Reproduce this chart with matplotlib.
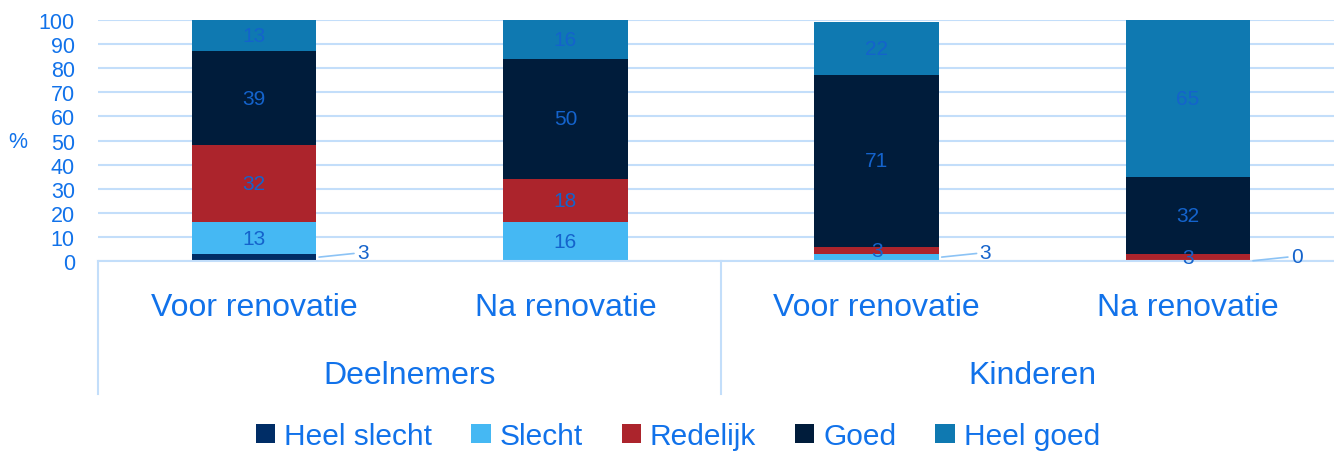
import numpy as np
import matplotlib.pyplot as plt

# data
groups = ['Deelnemers', 'Kinderen']
phases = ['Voor renovatie', 'Na renovatie', 'Voor renovatie', 'Na renovatie']
series = ['Heel slecht', 'Slecht', 'Redelijk', 'Goed', 'Heel goed']
heel_slecht = [3, 0, 0, 0]
slecht = [13, 16, 3, 0]
redelijk = [32, 18, 3, 3]
goed = [39, 50, 71, 32]
heel_goed = [13, 16, 22, 65]
values = [heel_slecht, slecht, redelijk, goed, heel_goed]
colors = ['#002D66', '#45B8F3', '#AC242C', '#001C3B', '#0F79B1']

txt = '#1172EA'
lab = '#1463CC'
grid = '#C3DEFA'
plt.rcParams['font.family'] = ['Liberation Sans', 'DejaVu Sans']

fig = plt.figure(figsize=(13.34, 4.52), dpi=100)
ax = fig.add_axes([98.4 / 1334, 1 - 262 / 452, 1245.2 / 1334, 241 / 452])

x = np.arange(len(phases))
bottom = np.zeros(len(phases))
for name, vals, c in zip(series, values, colors):
    vals = np.array(vals, dtype=float)
    ax.bar(x, vals, 0.4, bottom=bottom, color=c, label=name, zorder=2)
    for i, v in enumerate(vals):
        mid = bottom[i] + v / 2
        if name == 'Heel slecht' or (name == 'Slecht' and i == 2):
            # labels with leader line
            if v == 0 and i != 3:
                continue
            ax.annotate('%d' % v, xy=(x[i] + 0.2, bottom[i] + v / 2),
                        xytext=(x[i] + 0.33, bottom[i] + v / 2 + 2),
                        color=lab, fontsize=15, va='center', ha='left',
                        arrowprops=dict(arrowstyle='-', color='#8CC3F5', lw=1.2,
                                        shrinkA=0, shrinkB=2))
        elif v > 0:
            ax.text(x[i], mid, '%d' % v, color=lab, fontsize=15,
                    ha='center', va='center', zorder=3)
    bottom += vals

ax.set_xlim(-0.5, 3.5)
ax.set_ylim(0, 100)
ax.set_yticks(range(0, 101, 10))
ax.tick_params(axis='y', length=0, labelsize=15.5, labelcolor=txt, pad=17)
ax.set_xticks([])
for s in ax.spines.values():
    s.set_visible(False)
ax.grid(axis='y', color=grid, lw=1.5, zorder=0)
ax.set_axisbelow(True)
fig.text(18 / 1334, 1 - 143 / 452, '%', color=txt, fontsize=15.5, ha='center', va='center')

# category axis
for i, p in enumerate(phases):
    ax.text(x[i], -19, p, color=txt, fontsize=23,
            ha='center', va='center', clip_on=False)
for j, g in enumerate(groups):
    ax.text(2 * j + 0.5, -47.5, g, color=txt, fontsize=23,
            ha='center', va='center', clip_on=False)
for xv in [-0.5, 1.5]:
    ax.plot([xv, xv], [0, -55], color=grid, lw=1.5, clip_on=False)
ax.plot([-0.5, 3.5], [0, 0], color=grid, lw=1.5, clip_on=False)

fig.legend(loc='center', bbox_to_anchor=(678 / 1334, 1 - 437 / 452), ncol=5,
           frameon=False, fontsize=21.5, labelcolor=txt, handlelength=0.65,
           handleheight=0.65, handletextpad=0.3, columnspacing=1.3)

fig.savefig('out.png', dpi=100)
